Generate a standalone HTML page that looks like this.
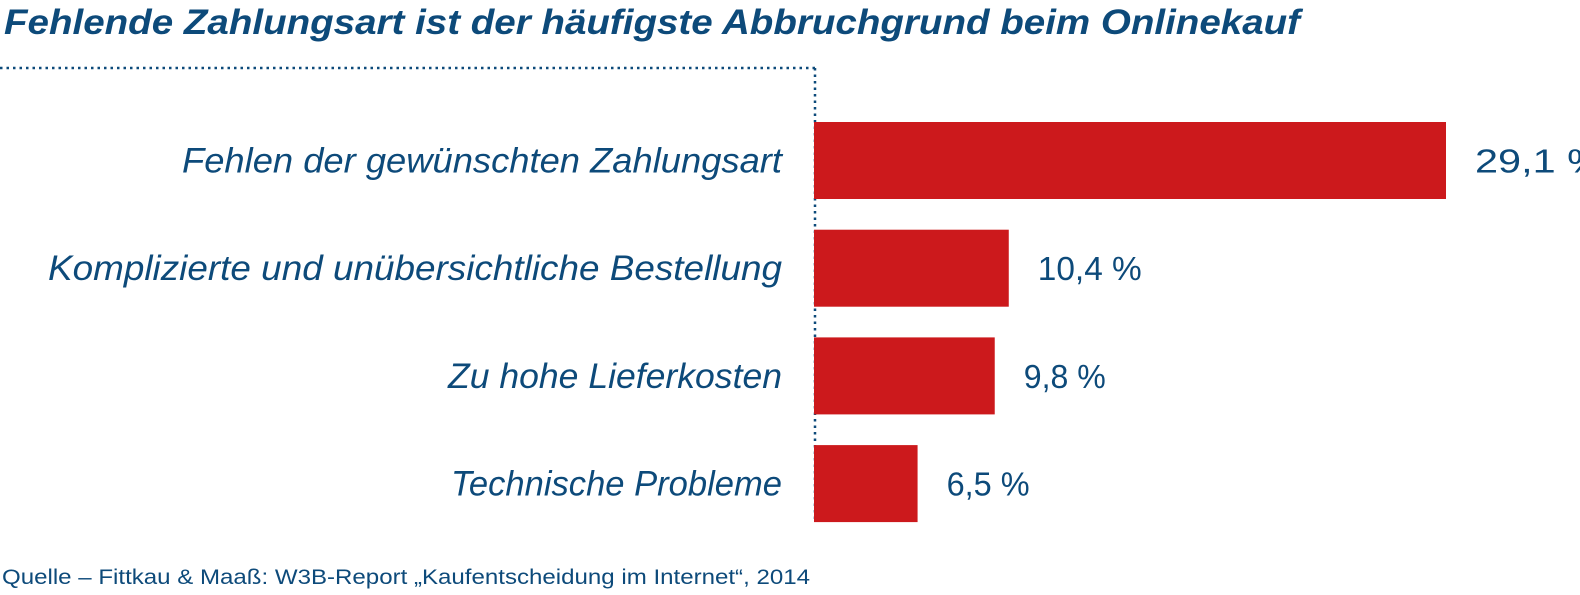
<!DOCTYPE html>
<html><head><meta charset="utf-8"><style>
body{margin:0;background:#fff;width:1580px;height:590px;overflow:hidden;font-family:"Liberation Sans",sans-serif;}
</style></head><body>
<svg width="1580" height="590">
<text x="4" y="34" font-size="35" font-weight="bold" font-style="italic" fill="#0d4a7a" textLength="1296" lengthAdjust="spacingAndGlyphs">Fehlende Zahlungsart ist der häufigste Abbruchgrund beim Onlinekauf</text>
<line x1="0" y1="68" x2="815" y2="68" stroke="#0d4a7a" stroke-width="2.5" stroke-dasharray="2.5 4"/>
<line x1="815" y1="68" x2="815" y2="522" stroke="#0d4a7a" stroke-width="2.5" stroke-dasharray="2.5 4"/>
<g id="bars"></g>
<text x="2" y="584" font-size="21" fill="#0d4a7a" textLength="808" lengthAdjust="spacingAndGlyphs">Quelle – Fittkau &amp; Maaß: W3B-Report „Kaufentscheidung im Internet“, 2014</text>
</svg>
<script>
const categories=["Fehlen der gewünschten Zahlungsart","Komplizierte und unübersichtliche Bestellung","Zu hohe Lieferkosten","Technische Probleme"];
const values=[29.1,10.4,9.8,6.5];
const valueLabels=["29,1 %","10,4 %","9,8 %","6,5 %"];
const labelWidths=[600,734,334,331];
const valueWidths=[129,104,82,83];
const dMin=2.07,dMax=29.1,r0=814,r1=1446;
const xs=v=>r0+(v-dMin)/(dMax-dMin)*(r1-r0);
const band=i=>122+i*107.7;
const bh=77;
const g=document.getElementById('bars');
const NS="http://www.w3.org/2000/svg";
categories.forEach((c,i)=>{
 const y=band(i);
 const r=document.createElementNS(NS,'rect');
 r.setAttribute('x',r0);r.setAttribute('y',y);r.setAttribute('width',xs(values[i])-r0);r.setAttribute('height',bh);r.setAttribute('fill','#cc191c');
 
 
 g.appendChild(r);
 const t=document.createElementNS(NS,'text');
 t.setAttribute('x',782);t.setAttribute('y',y+bh/2+12);t.setAttribute('text-anchor','end');t.setAttribute('font-size','35');t.setAttribute('font-style','italic');t.setAttribute('fill','#0d4a7a');
 t.setAttribute('textLength',labelWidths[i]);t.setAttribute('lengthAdjust','spacingAndGlyphs');
 t.textContent=c;
 
 
 g.appendChild(t);
 const v=document.createElementNS(NS,'text');
 v.setAttribute('x',xs(values[i])+29);v.setAttribute('y',y+bh/2+12);v.setAttribute('font-size','33');v.setAttribute('fill','#0d4a7a');
 v.setAttribute('textLength',valueWidths[i]);v.setAttribute('lengthAdjust','spacingAndGlyphs');
 v.textContent=valueLabels[i];
 
 
 g.appendChild(v);
});
</script>
</body></html>
